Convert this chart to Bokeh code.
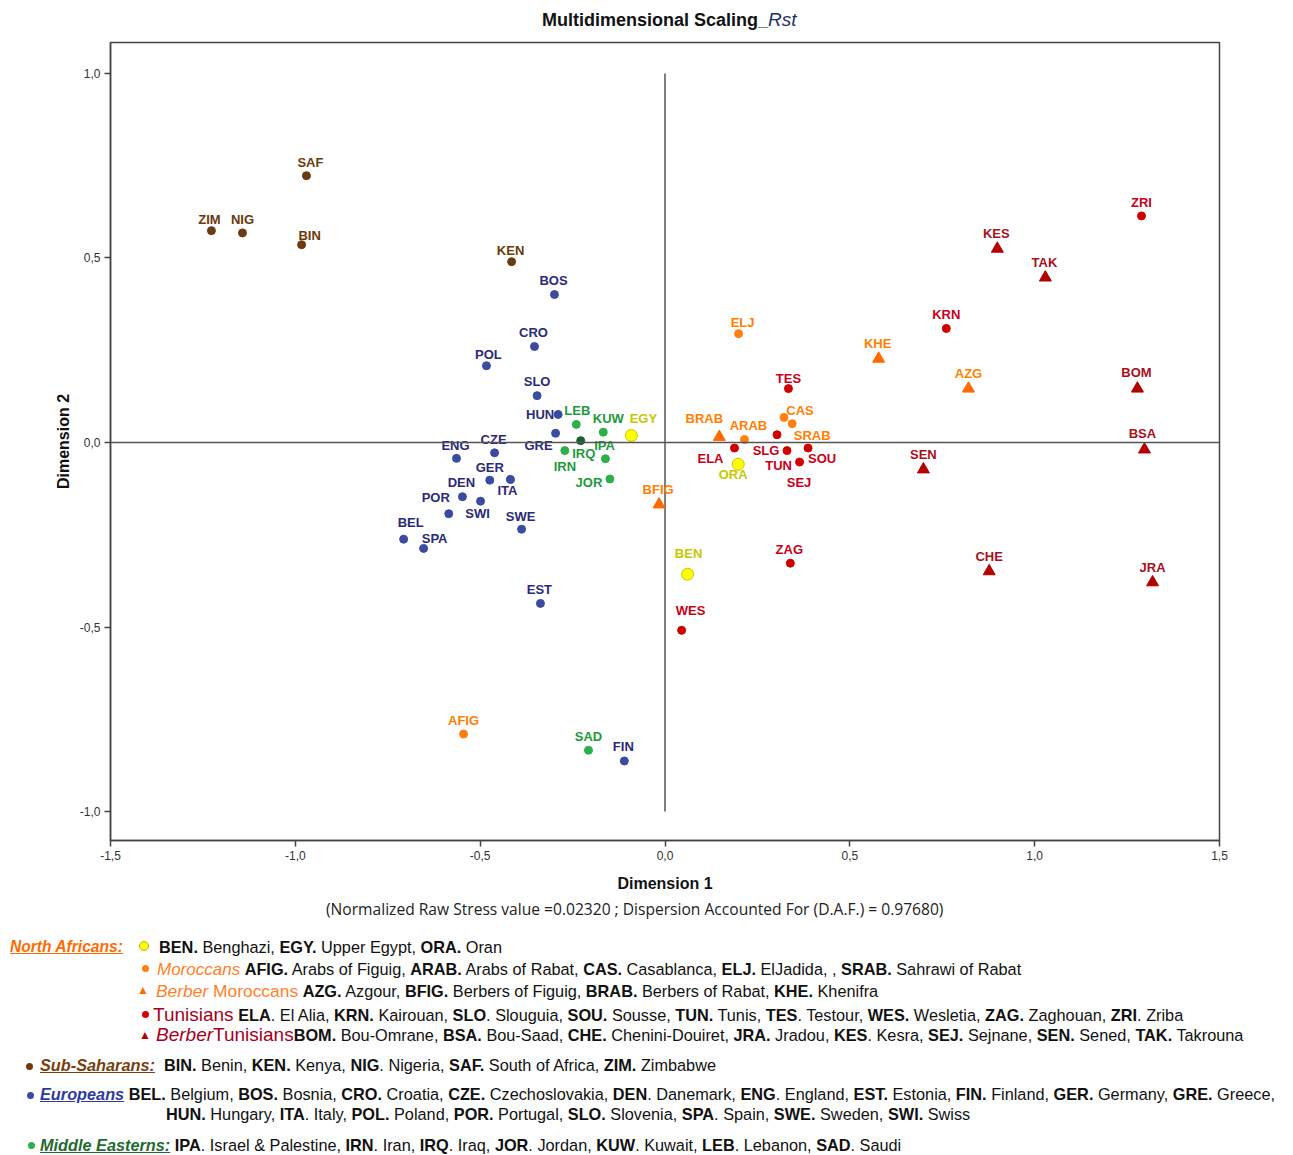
from bokeh.plotting import figure
from bokeh.models import Range1d, FixedTicker, Div, Span, ColumnDataSource
from bokeh.layouts import column
from bokeh.core.properties import value
from bokeh.embed import file_html
from bokeh.resources import INLINE

# ---------------- data ----------------
subsah_names = ["SAF", "ZIM", "NIG", "BIN", "KEN"]
subsah_x = [-0.970, -1.227, -1.143, -0.983, -0.415]
subsah_y = [0.723, 0.574, 0.568, 0.536, 0.490]

euro_names = ["BOS", "CRO", "POL", "SLO", "HUN", "GRE", "CZE", "ENG", "GER", "ITA",
              "DEN", "SWI", "POR", "SWE", "BEL", "SPA", "EST", "FIN"]
euro_x = [-0.299, -0.353, -0.483, -0.346, -0.289, -0.296, -0.461, -0.564, -0.474, -0.418,
          -0.548, -0.499, -0.585, -0.388, -0.707, -0.653, -0.337, -0.110]
euro_y = [0.401, 0.260, 0.208, 0.127, 0.076, 0.025, -0.028, -0.043, -0.102, -0.100,
          -0.147, -0.159, -0.193, -0.235, -0.262, -0.287, -0.436, -0.863]

mideast_names = ["LEB", "KUW", "IRQ", "IRN", "IPA", "JOR", "SAD"]
mideast_x = [-0.240, -0.167, -0.228, -0.271, -0.161, -0.149, -0.207]
mideast_y = [0.049, 0.028, 0.005, -0.022, -0.044, -0.099, -0.834]

nafr_names = ["EGY", "ORA", "BEN"]
nafr_x = [-0.091, 0.198, 0.061]
nafr_y = [0.019, -0.059, -0.357]

moroc_names = ["ELJ", "CAS", "SRAB", "ARAB", "AFIG"]
moroc_x = [0.199, 0.322, 0.344, 0.215, -0.545]
moroc_y = [0.295, 0.068, 0.051, 0.008, -0.790]

bmoroc_names = ["BRAB", "BFIG", "KHE", "AZG"]
bmoroc_x = [0.147, -0.016, 0.578, 0.821]
bmoroc_y = [0.015, -0.168, 0.227, 0.146]

tun_names = ["ZRI", "KRN", "TES", "ELA", "SLG", "SOU", "TUN", "WES", "ZAG", "SEJ"]
tun_x = [1.289, 0.761, 0.334, 0.188, 0.330, 0.387, 0.364, 0.045, 0.339, 0.303]
tun_y = [0.614, 0.309, 0.146, -0.015, -0.022, -0.015, -0.053, -0.509, -0.327, 0.021]

btun_names = ["KES", "TAK", "BOM", "BSA", "SEN", "CHE", "JRA"]
btun_x = [0.899, 1.029, 1.278, 1.297, 0.699, 0.877, 1.319]
btun_y = [0.525, 0.447, 0.146, -0.019, -0.073, -0.349, -0.379]

x_ticks = [-1.5, -1.0, -0.5, 0.0, 0.5, 1.0, 1.5]
x_tick_labels = ["-1,5", "-1,0", "-0,5", "0,0", "0,5", "1,0", "1,5"]
y_ticks = [-1.0, -0.5, 0.0, 0.5, 1.0]
y_tick_labels = ["-1,0", "-0,5", "0,0", "0,5", "1,0"]

# ---------------- label placement (pixels, layout only) ----------------
label_offsets = {
    "SAF": (4, -13), "ZIM": (-2, -11), "NIG": (0, -13), "BIN": (8, -9), "KEN": (-1, -11),
    "BOS": (-1, -14), "CRO": (-1, -14), "POL": (2, -11), "SLO": (0, -14), "HUN": (-18, 0),
    "GRE": (-17, 12), "CZE": (-1, -13), "ENG": (-1, -13), "GER": (0, -13), "ITA": (-3, 11),
    "DEN": (-1, -14), "SWI": (-3, 12), "POR": (-13, -16), "SWE": (-1, -13), "BEL": (7, -17),
    "SPA": (11, -10), "EST": (-1, -14), "FIN": (-1, -14),
    "LEB": (1, -14), "KUW": (5, -14), "IRQ": (3, 13), "IRN": (0, 16), "IPA": (-1, -13),
    "JOR": (-21, 3), "SAD": (0, -14),
    "EGY": (12, -17), "ORA": (-5, 10), "BEN": (1, -21),
    "ELJ": (4, -11), "CAS": (16, -7), "SRAB": (20, 12), "ARAB": (4, -14), "AFIG": (0, -14),
    "BRAB": (-15, -18), "BFIG": (-1, -15), "KHE": (-1, -15), "AZG": (0, -15),
    "ZRI": (0, -13), "KRN": (0, -14), "TES": (0, -10), "ELA": (-24, 10), "SLG": (-21, 0),
    "SOU": (14, 10), "TUN": (-21, 3), "WES": (9, -20), "ZAG": (-1, -14), "SEJ": (22, 48),
    "KES": (-1, -15), "TAK": (-1, -15), "BOM": (-1, -16), "BSA": (-2, -16), "SEN": (0, -15),
    "CHE": (0, -15), "JRA": (0, -15),
}

FONT = "Liberation Sans"

TITLE_H = 30
FIG_H = 864
p = figure(width=1285, height=FIG_H, output_backend="svg", toolbar_location=None,
           x_range=Range1d(-1.5, 1.5), y_range=Range1d(-1.0785, 1.0839),
           min_border_left=110, min_border_right=66, min_border_top=12, min_border_bottom=53)
p.title = None
p.xgrid.visible = False
p.ygrid.visible = False
p.background_fill_color = "white"
p.outline_line_color = "#444444"
p.outline_line_width = 1.5

p.xaxis.ticker = FixedTicker(ticks=x_ticks)
p.xaxis.major_label_overrides = {t: l for t, l in zip(x_ticks, x_tick_labels)}
p.yaxis.ticker = FixedTicker(ticks=y_ticks)
p.yaxis.major_label_overrides = {t: l for t, l in zip(y_ticks, y_tick_labels)}
for ax in (p.xaxis, p.yaxis):
    ax.minor_tick_line_color = None
    ax.major_tick_in = 0
    ax.major_tick_out = 6
    ax.major_tick_line_color = "#444444"
    ax.major_tick_line_width = 1.5
    ax.axis_line_color = "#444444"
    ax.axis_line_width = 1.5
    ax.major_label_text_font = FONT
    ax.major_label_text_font_size = "12px"
    ax.major_label_text_color = "#333333"
    ax.major_label_standoff = 4
    ax.axis_label_text_font = FONT
    ax.axis_label_text_font_size = "16px"
    ax.axis_label_text_font_style = "bold"
    ax.axis_label_text_color = "#111111"
p.xaxis.axis_label = "Dimension 1"
p.yaxis.axis_label = "Dimension 2"
p.xaxis.axis_label_standoff = 12
p.yaxis.axis_label_standoff = 5
p.yaxis.major_label_orientation = "horizontal"

# reference lines
p.add_layout(Span(location=0, dimension="width", line_color="#555555", line_width=1.5))
p.segment(x0=[0], y0=[y_ticks[0]], x1=[0], y1=[y_ticks[-1]], line_color="#555555", line_width=1.5)

groups = [
    (subsah_names, subsah_x, subsah_y, "circle", 8, "#6B3A10", "#6B3A10", "#6B3A0B"),
    (euro_names, euro_x, euro_y, "circle", 8, "#3B4CA0", "#3B4CA0", "#2A2A78"),
    (mideast_names, mideast_x, mideast_y, "circle", 8, "#2DB04A", "#2DB04A", "#1E9A3C"),
    (moroc_names, moroc_x, moroc_y, "circle", 8, "#FF7F10", "#FF7F10", "#FF8000"),
    (bmoroc_names, bmoroc_x, bmoroc_y, "triangle", 12, "#FF6A00", "#FF6A00", "#FF8000"),
    (tun_names, tun_x, tun_y, "circle", 8, "#D00000", "#D00000", "#C8001A"),
    (btun_names, btun_x, btun_y, "triangle", 12, "#B30000", "#B30000", "#A8101C"),
    (nafr_names, nafr_x, nafr_y, "circle", 12, "#FFFF00", "#C8C800", "#C8C800"),
]
special_fill = {"IRQ": "#1C5E2C"}

for names, xs, ys, marker, size, fill, line, lab in groups:
    fills = [special_fill.get(n, fill) for n in names]
    lines = [special_fill.get(n, line) for n in names]
    src = ColumnDataSource(dict(x=xs, y=ys, name=names, fill=fills, line=lines,
                                dx=[label_offsets[n][0] for n in names],
                                dy=[label_offsets[n][1] for n in names]))
    p.scatter("x", "y", source=src, marker=marker, size=size, fill_color="fill",
              line_color="line", line_width=1)
    p.text("x", "y", text="name", source=src, x_offset="dx", y_offset="dy",
           text_align="center", text_baseline="middle", text_color=lab,
           text_font=value(FONT), text_font_size="13px", text_font_style="bold")

# ---------------- title ----------------
title_div = Div(width=1285, height=TITLE_H, margin=(0, 0, 0, 0), text=(
    f"<div style='position:relative;width:1285px;height:{TITLE_H}px;'>"
    "<span style='position:absolute;left:542px;top:9px;white-space:nowrap;"
    "font-family:\"Liberation Sans\",Arial;font-size:18px;line-height:22px;color:#111;'>"
    "<b>Multidimensional Scaling_</b><i style='color:#1F2F6A;font-size:19px;'>Rst</i></span></div>"))

# ---------------- caption + legend ----------------
def bold_list(items, sep=", "):
    return sep.join(f"<b>{c}</b> {n}" for c, n in items)

leg_nafr = [("BEN.", "Benghazi"), ("EGY.", "Upper Egypt"), ("ORA.", "Oran")]
leg_moroc = [("AFIG.", "Arabs of Figuig"), ("ARAB.", "Arabs of Rabat"), ("CAS.", "Casablanca"),
             ("ELJ.", "ElJadida, "), ("SRAB.", "Sahrawi of Rabat")]
leg_bmoroc = [("AZG.", "Azgour"), ("BFIG.", "Berbers of Figuig"), ("BRAB.", "Berbers of Rabat"),
              ("KHE.", "Khenifra")]
leg_tun = [("ELA", ". El Alia"), ("KRN.", "Kairouan"), ("SLO", ". Slouguia"), ("SOU.", "Sousse"),
           ("TUN.", "Tunis"), ("TES", ". Testour"), ("WES.", "Wesletia"), ("ZAG.", "Zaghouan"),
           ("ZRI", ". Zriba")]
leg_btun = [("BOM.", "Bou-Omrane"), ("BSA.", "Bou-Saad"), ("CHE.", "Chenini-Douiret"),
            ("JRA.", "Jradou"), ("KES", ". Kesra"), ("SEJ.", "Sejnane"), ("SEN.", "Sened"),
            ("TAK.", "Takrouna")]
leg_subsah = [("BIN.", "Benin"), ("KEN.", "Kenya"), ("NIG", ". Nigeria"), ("SAF.", "South of Africa"),
              ("ZIM.", "Zimbabwe")]
leg_euro1 = [("BEL.", "Belgium"), ("BOS.", "Bosnia"), ("CRO.", "Croatia"), ("CZE.", "Czechoslovakia"),
             ("DEN", ". Danemark"), ("ENG", ". England"), ("EST.", "Estonia"), ("FIN.", "Finland"),
             ("GER.", "Germany"), ("GRE.", "Greece,")]
leg_euro2 = [("HUN.", "Hungary"), ("ITA", ". Italy"), ("POL.", "Poland"), ("POR.", "Portugal"),
             ("SLO.", "Slovenia"), ("SPA", ". Spain"), ("SWE.", "Sweden"), ("SWI.", "Swiss")]
leg_mideast = [("IPA", ". Israel &amp; Palestine"), ("IRN", ". Iran"), ("IRQ", ". Iraq"),
               ("JOR", ". Jordan"), ("KUW", ". Kuwait"), ("LEB", ". Lebanon"), ("SAD", ". Saudi")]


def fix(s):
    return s.replace("</b> .", "</b>.")


TOP0 = TITLE_H + FIG_H  # page y of legend div top
LEFT0 = 0
LEG_H = 1155 - TOP0
FS = 16.3


def item(x, yc, html, size=FS, lh=18, extra=""):
    return (f"<span style='position:absolute;left:{x - LEFT0}px;top:{yc - TOP0 - lh / 2}px;"
            f"line-height:{lh}px;font-size:{size}px;white-space:nowrap;{extra}'>{html}</span>")


def dot(xc, yc, d, fill, line=None):
    border = f"border:1px solid {line};" if line else ""
    tot = d + (2 if line else 0)
    return (f"<span style='position:absolute;left:{xc - LEFT0 - tot / 2}px;top:{yc - TOP0 - tot / 2}px;"
            f"width:{d}px;height:{d}px;border-radius:50%;background:{fill};{border}'></span>")


def tri(xc, yc, color):
    return item(xc - 6, yc, f"<span style='color:{color};'>&#9650;</span>", size=12, lh=14)


ORANGE = "#FF6A00"
DKRED = "#A50021"
parts = [
    item(326, 909, "(Normalized Raw Stress value =0.02320 ; Dispersion Accounted For (D.A.F.) = 0.97680)",
         size=15.6, lh=20, extra="font-family:\"Open Sans\",sans-serif;color:#222;"),
    item(10, 947, "<b><i><u>North Africans:</u></i></b>", size=15.6, extra=f"color:{ORANGE};"),
    dot(145, 947, 10, "#FFFF00", "#B8B800"),
    item(159, 947, fix(bold_list(leg_nafr))),
    dot(145, 968, 7, "#FF7F10"),
    item(157, 969, f"<i style='color:#FF7F27;font-size:17px;'>Moroccans</i> " + fix(bold_list(leg_moroc))),
    tri(143, 990, ORANGE),
    item(156, 991, f"<span style='color:#FF7F27;font-size:17.4px;'><i>Berber</i> Moroccans</span> " + fix(bold_list(leg_bmoroc))),
    dot(145, 1014, 7, "#D00000"),
    item(153, 1015, f"<span style='color:{DKRED};font-size:19px;'>Tunisians</span> " + fix(bold_list(leg_tun))),
    tri(145, 1035, "#B30000"),
    item(156, 1035, f"<span style='color:{DKRED};font-size:19px;'><i>Berber</i>Tunisians</span>" + fix(bold_list(leg_btun))),
    dot(29, 1066, 7, "#6B3A10"),
    item(40, 1065, "<b><i><u style='color:#7A3E0A;'>Sub-Saharans:</u></i></b>&nbsp; " + fix(bold_list(leg_subsah))),
    dot(30, 1095, 7, "#3B4CA0"),
    item(40, 1094, "<b><i><u style='color:#2E3A9E;'>Europeans</u></i></b> " + fix(bold_list(leg_euro1))),
    item(166, 1114, fix(bold_list(leg_euro2))),
    dot(31, 1145, 7, "#2DB04A"),
    item(40, 1145, "<b><i><u style='color:#1E6B2E;'>Middle Easterns:</u></i></b> " + fix(bold_list(leg_mideast))),
]
legend_div = Div(width=1285, height=LEG_H, margin=(0, 0, 0, 0), text=(
    f"<div style='position:relative;width:1285px;height:{LEG_H}px;font-family:\"Liberation Sans\",Arial;"
    "color:#111;'>" + "".join(parts) + "</div>"))

layout = column(title_div, p, legend_div, spacing=0)
open("out.html", "w").write(file_html(layout, INLINE))
